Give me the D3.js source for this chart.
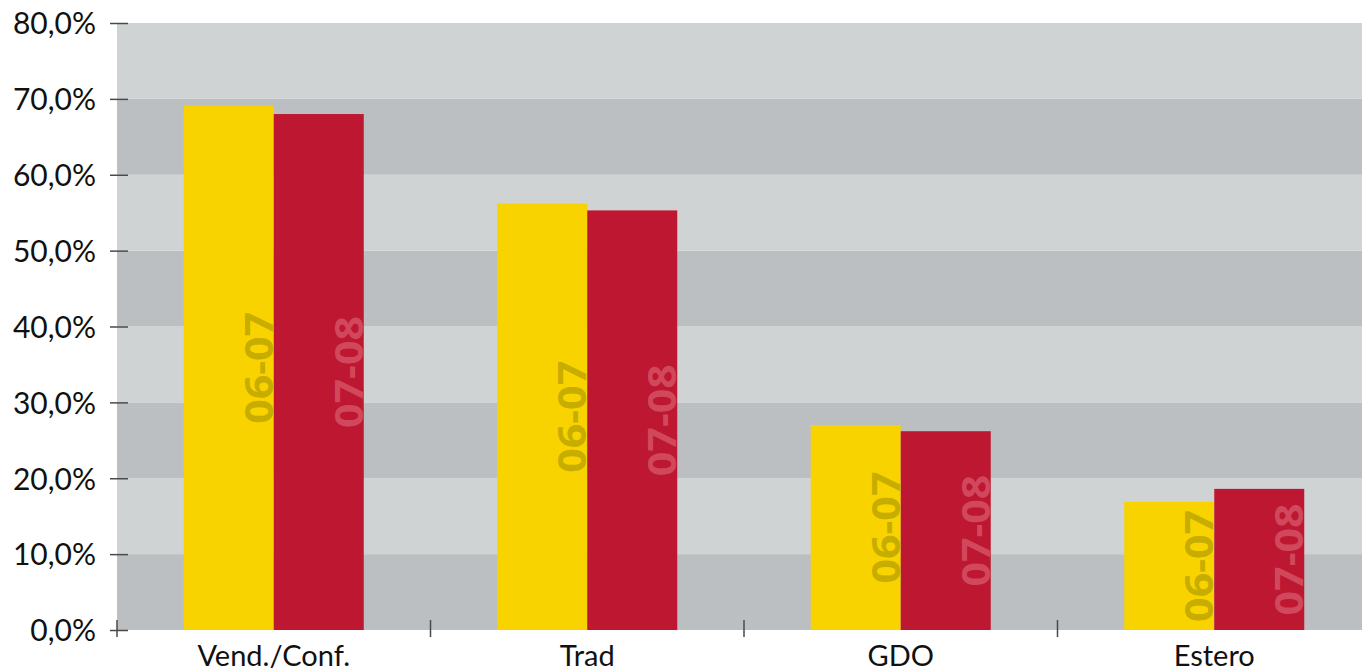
<!DOCTYPE html>
<html>
<head>
<meta charset="utf-8">
<script src="https://cdn.jsdelivr.net/npm/d3@7"></script>
<style>
  html, body { margin: 0; padding: 0; background: #ffffff; }
  svg { display: block; }
</style>
</head>
<body>
<svg id="chart" width="1362" height="669"></svg>
<script>
// Share by channel, two seasons
const categories = ["Vend./Conf.", "Trad", "GDO", "Estero"];
const seasons = ["06-07", "07-08"];
const values0607 = [69.1, 56.2, 27.0, 16.9];
const values0708 = [68.0, 55.3, 26.2, 18.6];
const yTicks = [0, 10, 20, 30, 40, 50, 60, 70, 80];

const seasonColor = { "06-07": "#f9d300", "07-08": "#bd1731" };
const labelColor = { "06-07": "#c7ad00", "07-08": "#d1485c" };

const svg = d3.select("#chart");
const plotLeft = 117, plotTop = 23, plotBottom = 630;
const bandStep = 313.5;

const y = d3.scaleLinear().domain([0, 80]).range([plotBottom, plotTop]);
const x0 = d3.scaleBand().domain(categories)
  .range([plotLeft, plotLeft + bandStep * categories.length]).paddingInner(0).paddingOuter(0);
const groupW = 180;
const x1 = d3.scaleBand().domain(seasons).range([0, groupW]).padding(0);

const rows = categories.map((c, i) => ({
  cat: c,
  vals: [
    { s: "06-07", v: values0607[i] },
    { s: "07-08", v: values0708[i] }
  ]
}));

// alternating background stripes per 10% interval
const stripes = yTicks.slice(0, -1);
svg.append("g").selectAll("rect").data(stripes).join("rect")
  .attr("x", plotLeft)
  .attr("y", d => y(d + 10))
  .attr("width", x0.range()[1] - plotLeft)
  .attr("height", d => y(d) - y(d + 10))
  .attr("fill", d => (d / 10) % 2 === 0 ? "#bbbfc2" : "#d0d3d4");

// bars
const groups = svg.append("g").selectAll("g").data(rows).join("g")
  .attr("transform", d => `translate(${x0(d.cat) + (x0.bandwidth() - groupW) / 2},0)`);

groups.selectAll("rect").data(d => d.vals).join("rect")
  .attr("x", d => x1(d.s))
  .attr("y", d => y(d.v))
  .attr("width", x1.bandwidth())
  .attr("height", d => y(0) - y(d.v))
  .attr("fill", d => seasonColor[d.s]);

// rotated season names inside each bar
groups.selectAll("text").data(d => d.vals).join("text")
  .attr("transform", d => {
    const cx = x1(d.s) + x1.bandwidth() - 1;
    const cy = (y(d.v) + y(0)) / 2;
    return `translate(${cx},${cy}) rotate(-90)`;
  })
  .attr("text-anchor", "middle")
  .attr("font-family", "'Open Sans', sans-serif")
  .attr("font-weight", 700)
  .attr("font-size", 40)
  .attr("textLength", 112)
  .attr("lengthAdjust", "spacingAndGlyphs")
  .attr("fill", d => labelColor[d.s])
  .text(d => d.s);

// y axis
const yAxis = d3.axisLeft(y).tickValues(yTicks).tickSize(0)
  .tickFormat(d => d3.format(".1f")(d).replace(".", ",") + "%");
const ya = svg.append("g").attr("transform", `translate(${plotLeft},0)`).call(yAxis);
ya.select(".domain").remove();
ya.selectAll(".tick text")
  .attr("x", -21)
  .attr("dy", "0.36em")
  .attr("font-family", "Lato, sans-serif")
  .attr("font-size", 30)
  .attr("fill", "#111");
ya.selectAll(".tick").append("line")
  .attr("x1", -7).attr("x2", 11)
  .attr("stroke", "#4a4a4a").attr("stroke-width", 1.5);

// x axis: category names and separators
const xa = svg.append("g").attr("transform", `translate(0,${plotBottom})`)
  .call(d3.axisBottom(x0).tickSize(0));
xa.select(".domain").remove();
xa.selectAll(".tick text")
  .attr("y", 36)
  .attr("dy", 0)
  .attr("font-family", "Lato, sans-serif")
  .attr("font-size", 29)
  .attr("fill", "#111");

const seps = categories.map(c => x0(c));
svg.append("g").selectAll("line").data(seps).join("line")
  .attr("x1", d => d).attr("x2", d => d)
  .attr("y1", plotBottom - 10).attr("y2", plotBottom + 7)
  .attr("stroke", "#4a4a4a").attr("stroke-width", 1.5);
</script>
</body>
</html>
